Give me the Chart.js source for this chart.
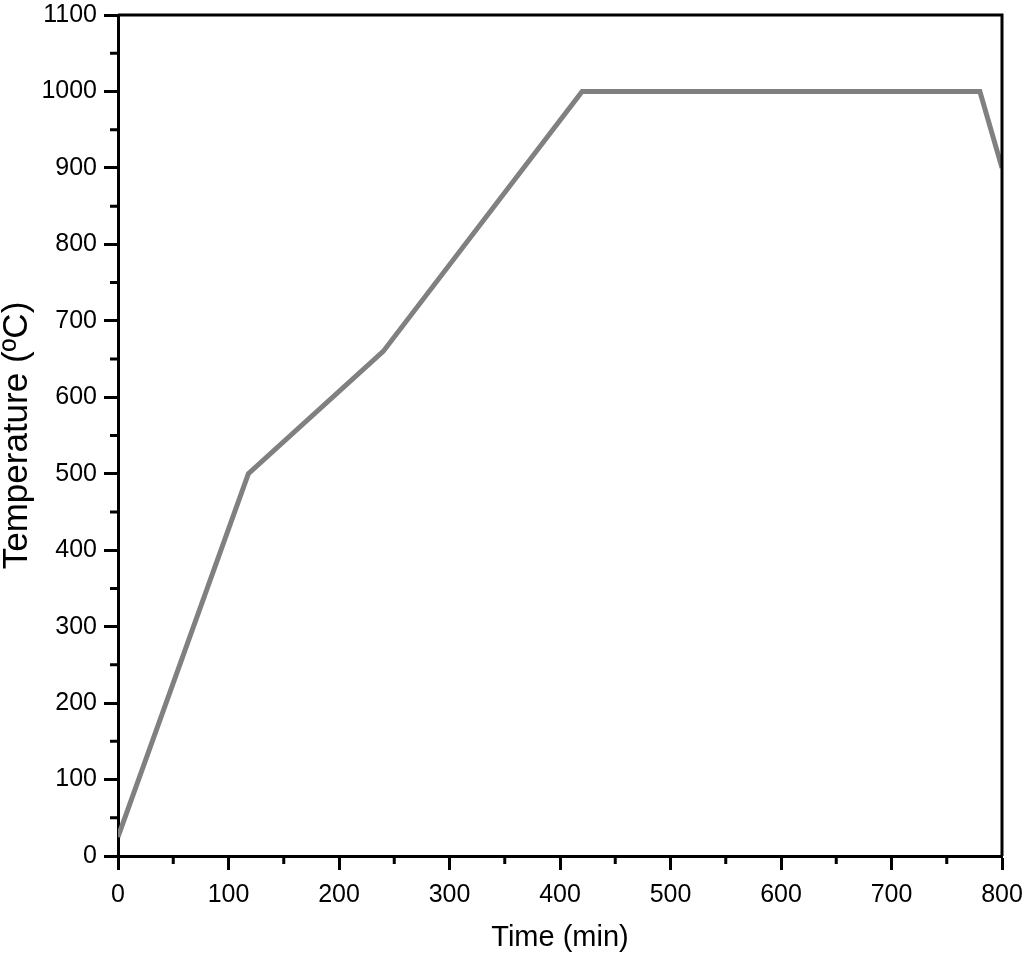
<!DOCTYPE html>
<html>
<head>
<meta charset="utf-8">
<script src="https://cdn.jsdelivr.net/npm/chart.js@4"></script>
<style>
  body { margin: 0; background: #fff; }
  canvas { display: block; }
</style>
</head>
<body>
<canvas id="tempChart" width="1024" height="956"></canvas>
<script>
  // heating schedule
  const timeMin = [0, 118, 240, 420, 780, 800];
  const tempC = [25, 500, 660, 1000, 1000, 900];
  const xTickLabels = [0, 100, 200, 300, 400, 500, 600, 700, 800];
  const yTickLabels = [0, 100, 200, 300, 400, 500, 600, 700, 800, 900, 1000, 1100];

  const FONT = "'Liberation Sans', Arial, Helvetica, sans-serif";

  // frame on top/right + short minor ticks halfway between labels
  const frameTicks = {
    id: 'frameTicks',
    afterDraw(chart) {
      const { ctx, chartArea: a, scales } = chart;
      ctx.save();
      ctx.strokeStyle = '#000';
      ctx.lineWidth = 3;
      ctx.beginPath();
      ctx.moveTo(a.left, a.top);
      ctx.lineTo(a.right, a.top);
      ctx.lineTo(a.right, a.bottom);
      ctx.stroke();

      ctx.beginPath();
      for (let i = 0; i < xTickLabels.length - 1; i++) {
        const px = scales.x.getPixelForValue((xTickLabels[i] + xTickLabels[i + 1]) / 2);
        ctx.moveTo(px, a.bottom);
        ctx.lineTo(px, a.bottom + 8);
      }
      for (let i = 0; i < yTickLabels.length - 1; i++) {
        const py = scales.y.getPixelForValue((yTickLabels[i] + yTickLabels[i + 1]) / 2);
        ctx.moveTo(a.left, py);
        ctx.lineTo(a.left - 8, py);
      }
      ctx.stroke();
      ctx.restore();
    }
  };

  const ctx = document.getElementById('tempChart').getContext('2d');
  const chart = new Chart(ctx, {
    type: 'line',
    data: {
      datasets: [{
        data: timeMin.map((t, i) => ({ x: t, y: tempC[i] })),
        borderColor: '#808080',
        borderWidth: 5,
        pointRadius: 0,
        tension: 0,
        fill: false
      }]
    },
    options: {
      responsive: false,
      animation: false,
      layout: { padding: { top: 15, right: 22, left: 0, bottom: 0 } },
      plugins: { legend: { display: false }, tooltip: { enabled: false } },
      scales: {
        x: {
          type: 'linear',
          min: 0,
          max: 800,
          afterBuildTicks: s => { s.ticks = xTickLabels.map(v => ({ value: v })); },
          afterFit: s => { s.height = 100; s.paddingLeft = 0; s.paddingRight = 0; },
          grid: { drawOnChartArea: false, tickLength: 14, tickWidth: 3, tickColor: '#000' },
          border: { color: '#000', width: 3 },
          ticks: { color: '#000', padding: 10, maxRotation: 0, callback: v => String(v), font: { family: FONT, size: 25 } },
          title: { display: true, text: 'Time (min)', color: '#000', padding: { top: 2, bottom: 1 }, font: { family: FONT, size: 29 } }
        },
        y: {
          min: 0,
          max: 1100,
          afterBuildTicks: s => { s.ticks = yTickLabels.map(v => ({ value: v })); },
          afterFit: s => { s.width = 118; s.paddingTop = 0; s.paddingBottom = 0; },
          grid: { drawOnChartArea: false, tickLength: 14, tickWidth: 3, tickColor: '#000' },
          border: { color: '#000', width: 3 },
          ticks: { color: '#000', padding: 7, callback: v => String(v), font: { family: FONT, size: 25 } },
          title: { display: true, text: 'Temperature (ºC)', color: '#000', padding: { top: 0, bottom: 0 }, font: { family: FONT, size: 35, lineHeight: 1 } }
        }
      }
    },
    plugins: [frameTicks]
  });
</script>
</body>
</html>
